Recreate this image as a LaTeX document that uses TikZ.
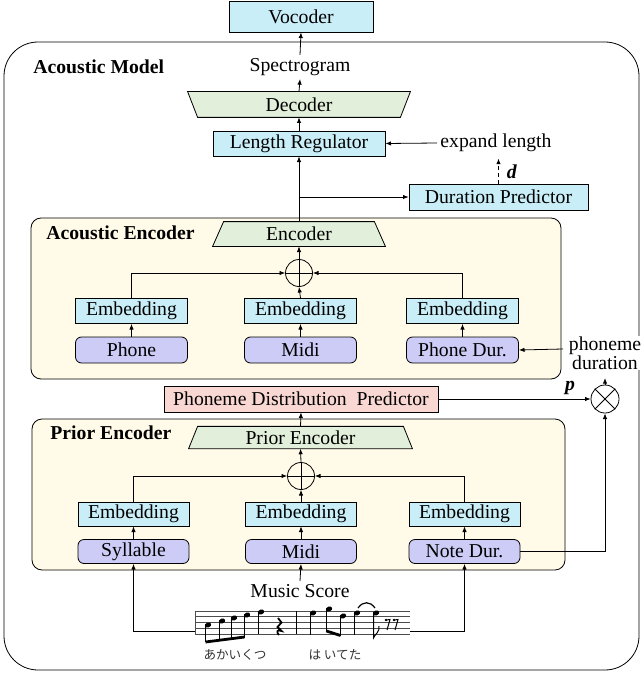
\documentclass[tikz,border=0pt]{standalone}
\usepackage{fontspec}
\setmainfont{Liberation Serif}
\newfontfamily\jpfont{Noto Sans CJK JP}
\usetikzlibrary{arrows.meta,calc}
\pgfdeclarelayer{back}
\pgfdeclarelayer{mid}
\pgfsetlayers{back,mid,main}
\definecolor{cy}{HTML}{C9EEF8}
\definecolor{gr}{HTML}{E2EFDA}
\definecolor{lav}{HTML}{CCCCF7}
\definecolor{cream}{HTML}{FFFBE8}
\definecolor{pk}{HTML}{F9D8D3}
\begin{document}
\begin{tikzpicture}[x=0.5pt,y=-0.5pt, line width=0.7pt,
  font=\fontsize{9.85}{11.5}\selectfont,
  arr/.style={-{Latex[length=2.8pt,width=2.2pt]}},
  bx/.style={draw, fill=cy, minimum width=56pt, minimum height=12.5pt, inner sep=0pt},
  rbx/.style={draw, fill=lav, rounded corners=3pt, minimum width=56pt, minimum height=12.5pt, inner sep=0pt},
  lab/.style={inner sep=1.5pt},
  cont/.style={draw, fill=cream, rounded corners=5pt},
  trap/.style={draw, fill=gr},
  staffline/.style={line width=0.35pt, black!70},
  note/.style={line width=0.5pt}]
\useasboundingbox (0,0) rectangle (642,674);

% outer box
\begin{pgfonlayer}{back}
\draw[rounded corners=17pt] (4,42) rectangle (639,670);
\draw[cont] (31,218) rectangle (561,379);
\draw[cont] (32,419) rectangle (565,570);
\end{pgfonlayer}

% top
\node[bx, minimum width=72pt, minimum height=15.5pt] (voc) at (301,16.5) {Vocoder};
\node[lab] (spec) at (300,67) {Spectrogram};
\node[lab, anchor=west, font=\fontsize{9.85}{11.5}\selectfont\bfseries] (am) at (30,67) {Acoustic Model};
\node[minimum width=111pt, minimum height=12.5pt, inner sep=0pt] (dec) at (299,104.5) {Decoder};
\node[bx, minimum width=86pt] (lr) at (299,143.5) {Length Regulator};
\node[lab] (el) at (496,143) {expand length};
\node[bx, minimum width=89.5pt, minimum height=13pt] (dp) at (498.5,197) {Duration Predictor};
\node[lab] (dl) at (512,172) {\textbf{\textit{d}}};
\coordinate (br) at (299,197);

% acoustic encoder
\node[lab, anchor=west, font=\fontsize{9.85}{11.5}\selectfont\bfseries] (ael) at (43,233) {Acoustic Encoder};
\node[minimum width=86pt, minimum height=12pt, inner sep=0pt] (enc) at (299,234) {Encoder};
\node[draw, circle, minimum size=13.5pt, inner sep=0pt] (pl1) at (299,273) {};
\node[bx] (e1) at (131.5,311) {Embedding};
\node[bx] (e2) at (300.5,311) {Embedding};
\node[bx] (e3) at (462.5,311) {Embedding};
\node[rbx, minimum height=13pt] (ph) at (131.5,350) {Phone};
\node[rbx, minimum height=13pt] (mi1) at (300.5,350) {Midi};
\node[rbx, minimum height=13pt] (pdur) at (462.5,350) {Phone Dur.};
\node[inner sep=0.5pt, fill=white, align=center, font=\fontsize{9.85}{9.5}\selectfont] (pdt) at (605,353) {phoneme\\duration};
\coordinate (pdin) at (563,349);
\coordinate (otup) at (605,378);

% phoneme distribution predictor
\node[draw, fill=pk, minimum width=137pt, minimum height=13pt, inner sep=0pt] (pdp) at (301,399) {Phoneme Distribution\ \ Predictor};
\node[draw, circle, minimum size=14pt, inner sep=0pt] (ot) at (605,399) {};
\node[lab] (pl) at (570,388) {\textbf{\textit{p}}};

% prior encoder
\node[lab, anchor=west, font=\fontsize{9.85}{11.5}\selectfont\bfseries] (pel) at (47,433) {Prior Encoder};
\node[minimum width=111.5pt, minimum height=10.75pt, inner sep=0pt] (penc) at (300.5,437.5) {Prior Encoder};
\node[draw, circle, minimum size=13.5pt, inner sep=0pt] (pl2) at (301,476) {};
\node[bx, minimum width=55.5pt, minimum height=12pt] (f1) at (133.5,514) {Embedding};
\node[bx, minimum width=55.5pt, minimum height=12pt] (f2) at (301,514) {Embedding};
\node[bx, minimum width=55.5pt, minimum height=12pt] (f3) at (464.5,514) {Embedding};
\node[rbx, minimum width=55.5pt, minimum height=12pt] (syl) at (133.5,551.5) {Syllable};
\node[rbx, minimum width=55.5pt, minimum height=12pt] (mi2) at (301,551.5) {Midi};
\node[rbx, minimum width=55.5pt, minimum height=12pt] (nd) at (464.5,551.5) {Note Dur.};
\node[lab] (ms) at (300,591) {Music Score};
\coordinate (sl) at (195,631);
\coordinate (sr) at (410,631);
\node[inner sep=0pt, font=\jpfont\fontsize{6.3}{7}\selectfont, text=black!80] (jp1) at (235,655) {あかいくつ};
\node[inner sep=0pt, font=\jpfont\fontsize{6.3}{7}\selectfont, text=black!80] (jp2) at (335,655) {は\ いてた};

% trapezoids
\begin{pgfonlayer}{mid}
\draw[trap] (dec.north west) -- (dec.north east) -- ([xshift=-5pt]dec.south east) -- ([xshift=5pt]dec.south west) -- cycle;
\draw[trap] ([xshift=5.5pt]enc.north west) -- ([xshift=-5.5pt]enc.north east) -- (enc.south east) -- (enc.south west) -- cycle;
\draw[trap] ([xshift=4.5pt]penc.north west) -- ([xshift=-4.5pt]penc.north east) -- (penc.south east) -- (penc.south west) -- cycle;
\end{pgfonlayer}

% plus / times signs
\draw (pl1.north) -- (pl1.south) (pl1.west) -- (pl1.east);
\draw (pl2.north) -- (pl2.south) (pl2.west) -- (pl2.east);
\draw (ot.north west) -- (ot.south east) (ot.north east) -- (ot.south west);

% connectors top
\draw[arr] (spec.north) -- (voc.south);
\draw[arr] (dec.north) -- (spec.south);
\draw[arr] (lr.north) -- (dec.south);
\draw[arr] (enc.north) -- (lr.south);
\draw[arr] (br) -- (dp.west);
\draw[arr] (el.west) -- (lr.east);
\draw[arr, dashed, dash pattern=on 2pt off 1.5pt] (dp.north) -- ($(dp.north)+(0,-25)$);

% acoustic encoder connectors
\draw[arr] (pl1.north) -- (enc.south);
\draw[arr] (e1.north) |- (pl1.west);
\draw[arr] (e3.north) |- (pl1.east);
\draw[arr] (e2.north) -- (pl1.south);
\draw[arr] (ph.north) -- (e1.south);
\draw[arr] (mi1.north) -- (e2.south);
\draw[arr] (pdur.north) -- (e3.south);
\draw[arr] (pdin) -- (pdur.east);
\draw[arr] (ot.north) -- (otup);

% predictor
\draw[arr] (pdp.east) -- (ot.west);
\draw[arr] (penc.north) -- (pdp.south);

% prior encoder connectors
\draw[arr] (pl2.north) -- (penc.south);
\draw[arr] (f1.north) |- (pl2.west);
\draw[arr] (f3.north) |- (pl2.east);
\draw[arr] (f2.north) -- (pl2.south);
\draw[arr] (syl.north) -- (f1.south);
\draw[arr] (mi2.north) -- (f2.south);
\draw[arr] (nd.north) -- (f3.south);
\draw[arr] (nd.east) -| (ot.south);
\draw[arr] (ms.north) -- (mi2.south);
\draw[arr] (sl) -| (syl.south);
\draw[arr] (sr) -| (nd.south);

% staff
\foreach \yy in {611,616.75,622.5,628.25,634}
  \draw[staffline] (195,\yy) -- (410,\yy);
\draw[staffline] (195,611) -- (195,634);
\draw[note] (296,611) -- (296,634);
% measure 1 beamed notes
\foreach \xx/\yy in {208/625,222/621,234/618,247/615}{
  \fill[rotate around={20:(\xx,\yy)}] (\xx,\yy) ellipse [x radius=3.3, y radius=2.4];
}
\draw[note] (205.5,626) -- (205.5,642);
\draw[note] (219.5,622) -- (219.5,640.5);
\draw[note] (231.5,619) -- (231.5,639);
\draw[note] (244.5,616) -- (244.5,637.5);
\draw[line width=1.4pt] (205.5,642) -- (244.5,637);
\fill[rotate around={20:(261,612)}] (261,612) ellipse [x radius=3.3, y radius=2.4];
\draw[note] (258.5,613) -- (258.5,634);
% quarter rest
\draw[line width=0.9pt] (278,618) -- (281.5,622.5) -- (277.5,627) -- (281.5,631) .. controls (277,629) and (276,632) .. (279,635);
% measure 2
\fill[rotate around={20:(313,613)}] (313,613) ellipse [x radius=3.3, y radius=2.4];
\draw[note] (310.5,614) -- (310.5,635);
\fill[rotate around={20:(329,609)}] (329,609) ellipse [x radius=3.3, y radius=2.4];
\fill[rotate around={20:(343,616)}] (343,616) ellipse [x radius=3.3, y radius=2.4];
\draw[note] (326.5,610) -- (326.5,631.5);
\draw[note] (340.5,617) -- (340.5,636);
\draw[line width=1.4pt] (326.5,631) -- (340.5,635.5);
\fill[rotate around={20:(357,613)}] (357,613) ellipse [x radius=3.3, y radius=2.4];
\draw[note] (354.5,614) -- (354.5,635);
\draw[line width=0.6pt] (358,608) .. controls (363,601) and (370,601) .. (375,608);
\fill[rotate around={20:(376,613)}] (376,613) ellipse [x radius=3.3, y radius=2.4];
\draw[note] (373.5,614) -- (373.5,638) .. controls (375,634) and (380,632) .. (379,626);
% eighth rests
\foreach \xx in {386,394}{
  \fill (\xx,620) circle [radius=1.3];
  \draw[line width=0.5pt] (\xx,620) -- (\xx+4,619.5) -- (\xx+1,630);
}
\end{tikzpicture}
\end{document}
